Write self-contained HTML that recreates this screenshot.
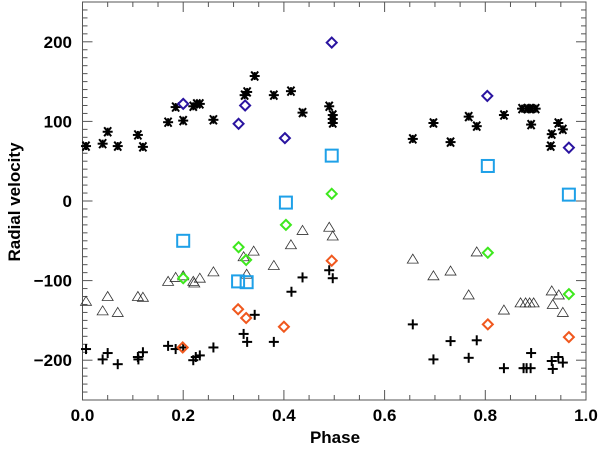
<!DOCTYPE html>
<html><head><meta charset="utf-8"><style>
html,body{margin:0;padding:0;background:#fff;width:600px;height:450px;overflow:hidden}
svg text{font-family:"Liberation Sans",sans-serif;font-weight:bold}
</style></head><body>
<svg id="chart" width="600" height="450" viewBox="0 0 600 450">
<g id="axes"></g>
<g id="marks"></g>
<text x="335" y="443" font-size="17" text-anchor="middle">Phase</text>
<text x="0" y="0" font-size="17" text-anchor="middle" transform="translate(20,202) rotate(-90)">Radial velocity</text>
</svg>
<script>
const xTicks=[0,0.2,0.4,0.6,0.8,1.0];
const xTickLabels=["0.0","0.2","0.4","0.6","0.8","1.0"];
const yTicks=[-200,-100,0,100,200];
const yTickLabels=["\u2212200","\u2212100","0","100","200"];
const astPhase=[0.007,0.04,0.05,0.07,0.11,0.12,0.17,0.185,0.2,0.22,0.227,0.233,0.26,0.322,0.327,0.342,0.38,0.414,0.437,0.49,0.497,0.497,0.497,0.656,0.697,0.731,0.767,0.783,0.837,0.873,0.883,0.891,0.9,0.891,0.932,0.93,0.945,0.954];
const astVel=[69,72,87,69,83,68,99,118,101,119,122,122,102,133,137,157,133,138,111,119,108,103,98,78,98,74,106,94,108,116,116,116,116,96,84,69,98,90];
const navyPhase=[0.2,0.31,0.323,0.402,0.495,0.804,0.966];
const navyVel=[122,97,120,79,199,132,67];
const cyanPhase=[0.2,0.309,0.326,0.404,0.495,0.805,0.966];
const cyanVel=[-50,-101,-102,-2,57,44,8];
const greenPhase=[0.2,0.31,0.325,0.404,0.495,0.805,0.966];
const greenVel=[-97,-58,-74,-30,9,-65,-117];
const orangePhase=[0.199,0.309,0.325,0.4,0.495,0.805,0.966];
const orangeVel=[-184,-136,-147,-158,-75,-155,-171];
const triPhase=[0.007,0.04,0.05,0.07,0.11,0.12,0.17,0.185,0.2,0.22,0.222,0.233,0.26,0.32,0.34,0.326,0.38,0.414,0.437,0.49,0.497,0.656,0.697,0.731,0.767,0.783,0.837,0.87,0.88,0.888,0.896,0.932,0.934,0.946,0.954];
const triVel=[-126,-138,-120,-140,-120,-121,-101,-96,-94,-101,-103,-97,-89,-70,-63,-92,-81,-55,-37,-33,-44,-73,-94,-88,-118,-64,-137,-128,-128,-128,-128,-113,-130,-118,-140];
const plusPhase=[0.007,0.04,0.05,0.07,0.11,0.111,0.12,0.17,0.185,0.2,0.22,0.225,0.233,0.26,0.32,0.327,0.342,0.38,0.415,0.437,0.49,0.497,0.656,0.697,0.731,0.767,0.783,0.837,0.876,0.882,0.89,0.891,0.932,0.934,0.945,0.954];
const plusVel=[-186,-199,-191,-205,-196,-199,-190,-182,-186,-184,-200,-196,-194,-184,-167,-177,-143,-177,-114,-96,-87,-97,-155,-199,-176,-197,-175,-210,-210,-210,-210,-191,-201,-211,-196,-203];

const X0=82.5,X1=586,Y0=2,Y1=400;
const xs=p=>X0+p*(X1-X0);
const ys=v=>Y1-(v+250)/500*(Y1-Y0);
const NS="http://www.w3.org/2000/svg";
const axes=document.getElementById('axes'),marks=document.getElementById('marks');
function mk(tag,attrs,parent){const e=document.createElementNS(NS,tag);for(const k in attrs)e.setAttribute(k,attrs[k]);parent.appendChild(e);return e;}
const frame=mk('rect',{x:X0,y:Y0,width:X1-X0,height:Y1-Y0,fill:'none',stroke:'#555','stroke-width':1},axes);


for(let i=0;i<=20;i++){const p=i*0.05,x=xs(p),L=(i%4===0)?10:5;
 mk('line',{x1:x,x2:x,y1:Y1,y2:Y1-L,stroke:'#555'},axes);mk('line',{x1:x,x2:x,y1:Y0,y2:Y0+L,stroke:'#555'},axes);}
for(let v=-250;v<=250;v+=10){const y=ys(v),L=(v%100===0)?10:5;
 mk('line',{x1:X0,x2:X0+L,y1:y,y2:y,stroke:'#555'},axes);mk('line',{x1:X1,x2:X1-L,y1:y,y2:y,stroke:'#555'},axes);}
xTicks.forEach((t,i)=>{const e=mk('text',{x:xs(t),y:421,'font-size':17,'text-anchor':'middle'},axes);e.textContent=xTickLabels[i];
 
 });
yTicks.forEach((t,i)=>{const e=mk('text',{x:72,y:ys(t)+6,'font-size':17,'text-anchor':'end'},axes);e.textContent=yTickLabels[i];
 
 });
function diamond(p,v,col,name){const x=xs(p),y=ys(v),r=5;const e=mk('polygon',{points:`${x},${y-r} ${x+r},${y} ${x},${y+r} ${x-r},${y}`,fill:'none',stroke:col,'stroke-width':2},marks);
 
 }
astPhase.forEach((p,i)=>{const x=xs(p),y=ys(astVel[i]),g=mk('g',{stroke:'#000','stroke-width':2},marks);
 
 
 mk('line',{x1:x-5,x2:x+5,y1:y,y2:y},g);mk('line',{x1:x-3.5,x2:x+3.5,y1:y-4.5,y2:y+4.5},g);mk('line',{x1:x-3.5,x2:x+3.5,y1:y+4.5,y2:y-4.5},g);mk('line',{x1:x,x2:x,y1:y-4,y2:y+4},g);});
triPhase.forEach((p,i)=>{const x=xs(p),y=ys(triVel[i]);const e=mk('polygon',{points:`${x},${y-5} ${x+5.5},${y+4} ${x-5.5},${y+4}`,fill:'none',stroke:'#333','stroke-width':0.8},marks);
 
 });
plusPhase.forEach((p,i)=>{const x=xs(p),y=ys(plusVel[i]),g=mk('g',{stroke:'#000','stroke-width':2},marks);
 
 
 mk('line',{x1:x-5,x2:x+5,y1:y,y2:y},g);mk('line',{x1:x,x2:x,y1:y-5,y2:y+5},g);});
navyPhase.forEach((p,i)=>diamond(p,navyVel[i],'#2a14a0','navy-diamond'));
greenPhase.forEach((p,i)=>diamond(p,greenVel[i],'#3ee81e','green-diamond'));
orangePhase.forEach((p,i)=>diamond(p,orangeVel[i],'#f0581e','orange-diamond'));
cyanPhase.forEach((p,i)=>{const x=xs(p),y=ys(cyanVel[i]);const e=mk('rect',{x:x-6,y:y-6,width:12,height:12,fill:'none',stroke:'#1ea0e8','stroke-width':2},marks);
 
 });
</script>
</body></html>
